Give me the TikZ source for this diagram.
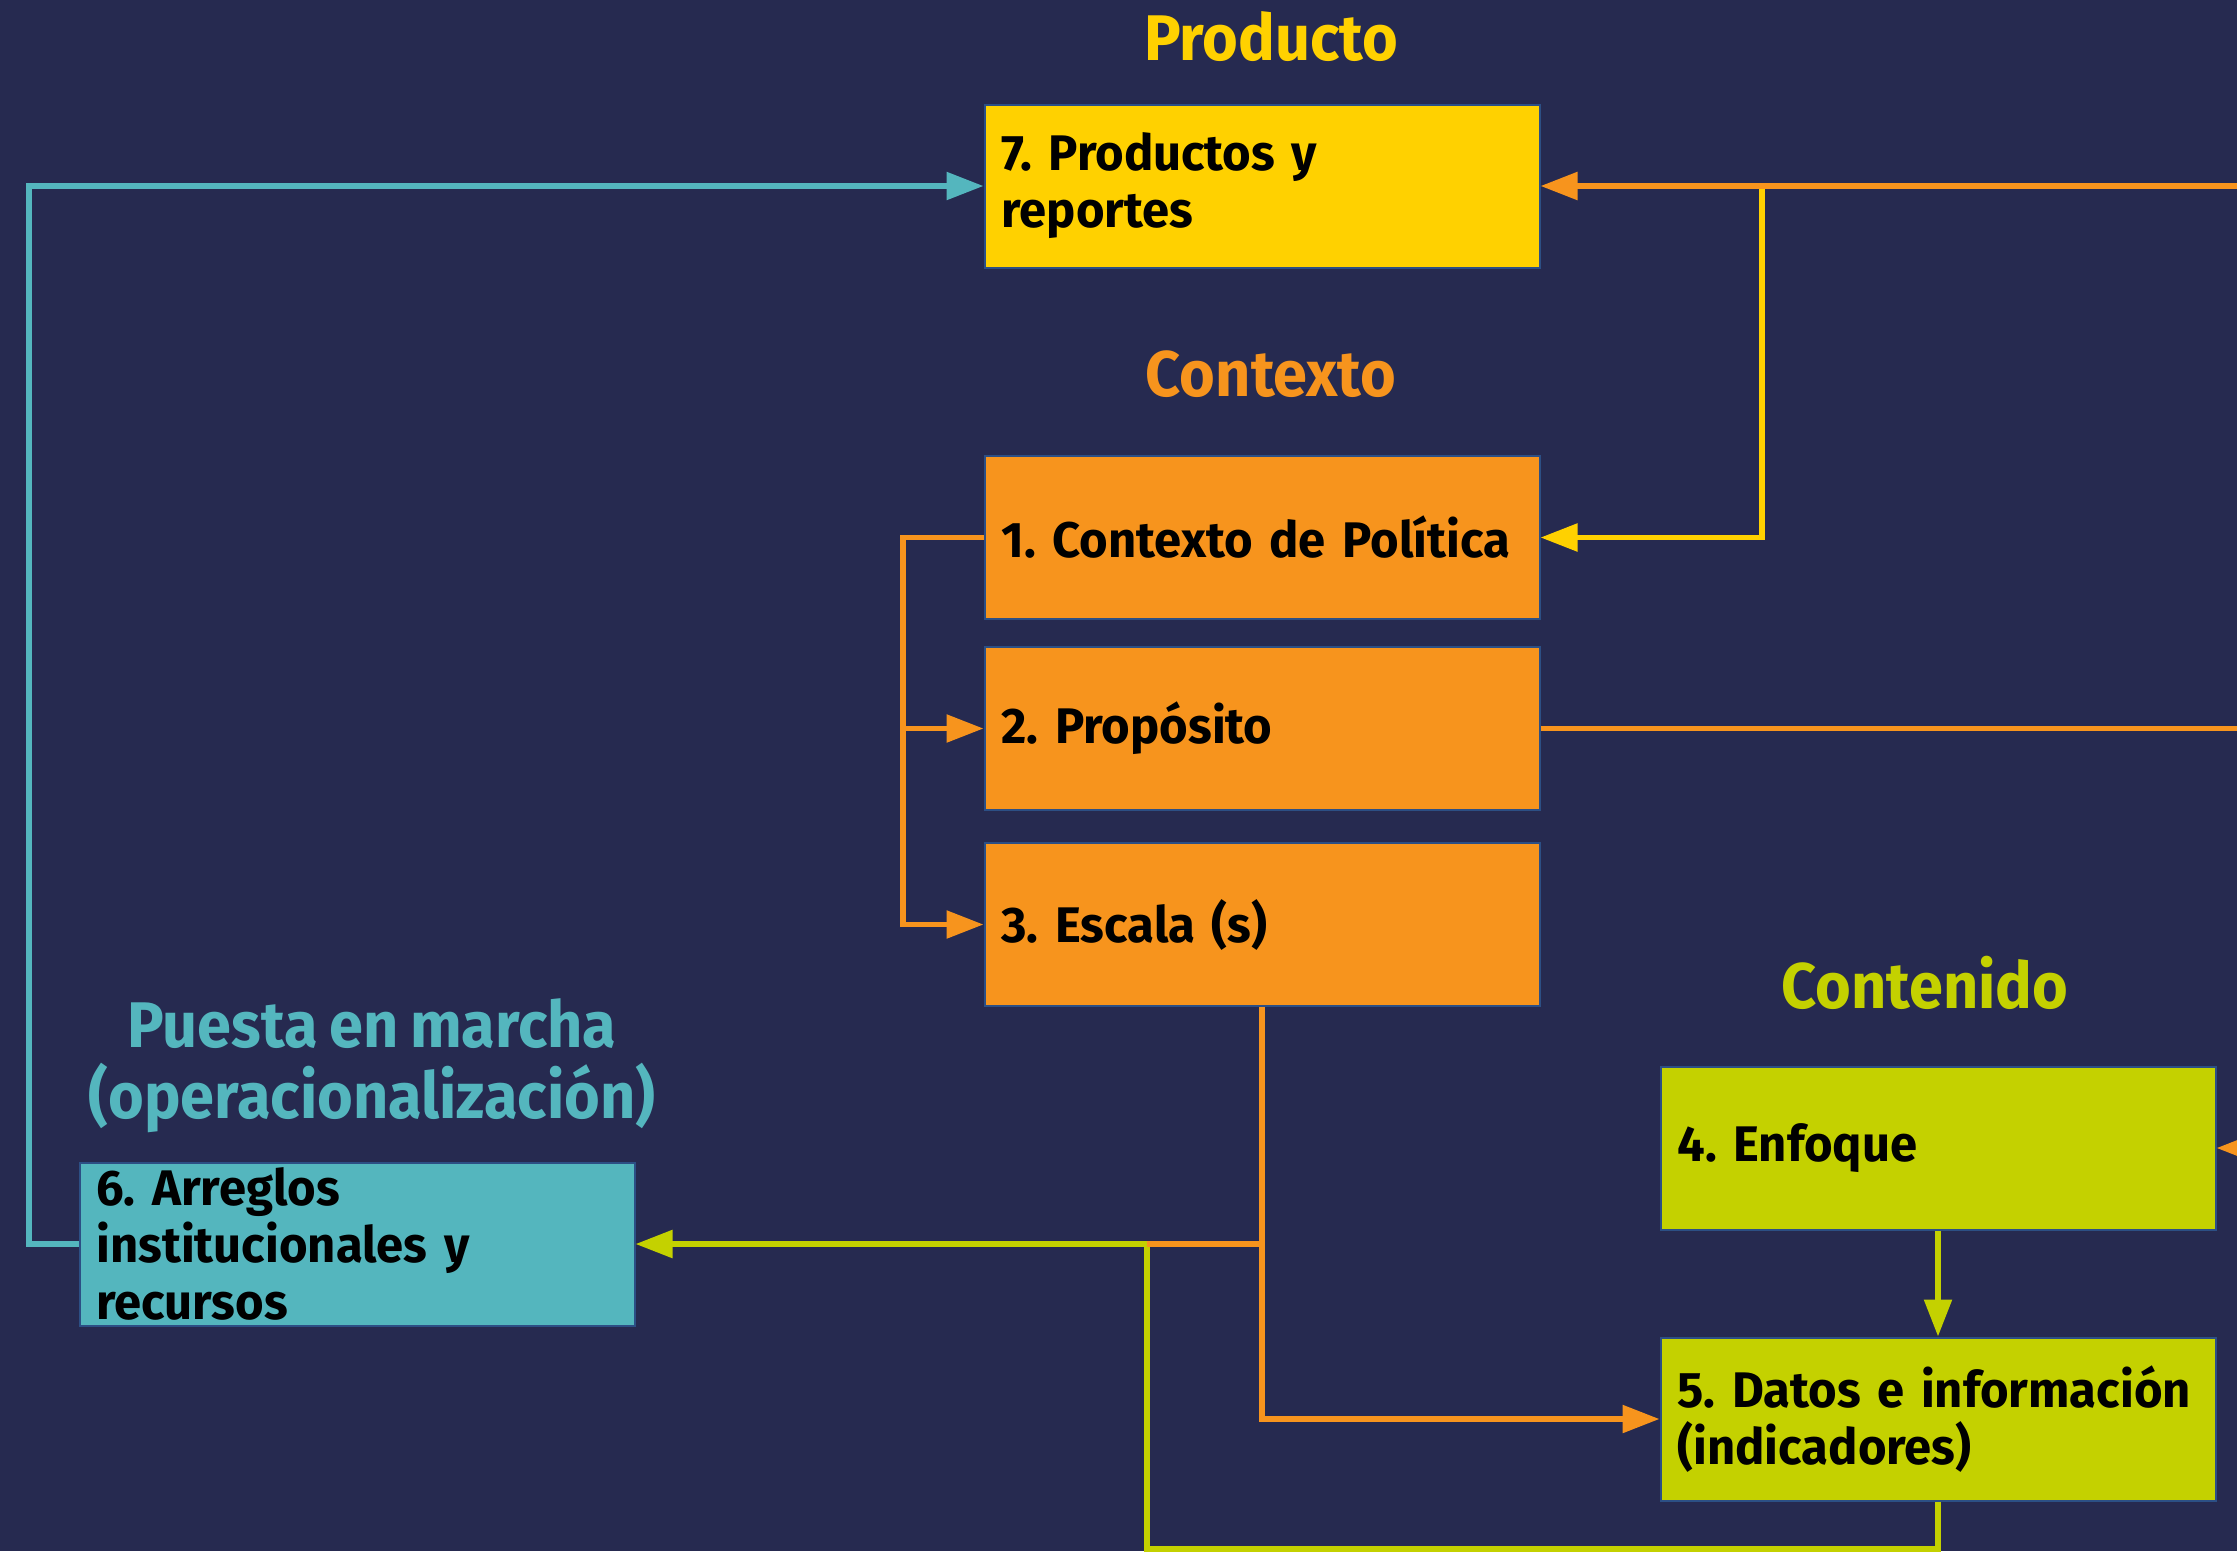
\documentclass[tikz,border=0pt]{standalone}
\usepackage{fontspec}
\setmainfont{Fira Sans}
\newfontfamily\boxfont{Fira Sans}[FakeStretch=0.98]
\newfontfamily\titlefont{Fira Sans}[FakeStretch=0.95,WordSpace=0.8]
\usetikzlibrary{arrows.meta}
\definecolor{bg}{HTML}{262A50}
\definecolor{cyellow}{HTML}{FFD100}
\definecolor{corange}{HTML}{F7941D}
\definecolor{clime}{HTML}{C4D100}
\definecolor{cteal}{HTML}{54B6BE}
\definecolor{cborder}{HTML}{2C4F85}
\tikzset{
  box/.style={draw=cborder, line width=2pt, rectangle, minimum height=163pt,
    text width=521pt, inner xsep=17pt, inner ysep=0pt, text=black,
    execute at begin node={\raggedright\frenchspacing},
    font={\boxfont\bfseries\fontsize{50}{57}\selectfont}},
  ttl/.style={align=center, font=\titlefont\bfseries\fontsize{64.5}{71}\selectfont, inner sep=0pt},
  conn/.style={line width=5.5pt},
  tip/.style={-{Triangle[length=37pt,width=27pt]}},
}
\begin{document}
\begin{tikzpicture}[x=1pt,y=-1pt]
\fill[bg] (0,0) rectangle (2237,1551);
\useasboundingbox (0,0) rectangle (2237,1551);
\clip (0,0) rectangle (2237,1551);

% titles
\node[ttl, text=cyellow] (tprod) at (1271,37) {Producto};
\node[ttl, text=corange] (tctx) at (1271,374) {Contexto};
\node[ttl, text=clime] (tcont) at (1925,983) {Contenido};
\node[ttl, text=cteal] (tpue) at (372,1066) {Puesta en marcha\\(operacionalización)};

% boxes
\node[box, fill=cyellow] (b7) at (1262,186) {7. Productos y\\reportes};
\node[box, fill=corange] (b1) at (1262,537.5) {\mbox{1. Contexto de Política}};
\node[box, fill=corange] (b2) at (1262,728.5) {2. Propósito};
\node[box, fill=corange] (b3) at (1262,924.5) {3. Escala (s)};
\node[box, fill=clime] (b4) at (1938,1148) {4. Enfoque};
\node[box, fill=clime] (b5) at (1938,1419) {\mbox{5. Datos e información}\\(indicadores)};
\node[box, fill=cteal] (b6) at (357,1244) {6. Arreglos\\\mbox{institucionales y}\\recursos};

% coordinates
\coordinate (tl) at (29,186);
\coordinate (r7) at (2240,186);
\coordinate (yj) at (1762,186);
\coordinate (ob) at (903,537.5);
\coordinate (r2) at (2240,728.5);
\coordinate (r4) at (2262,1148);
\coordinate (oj) at (1262,1244);
\coordinate (lj) at (1147,1244);
\coordinate (lc) at (1147,1549);

% connectors
\draw[conn, cteal, tip] (b6.west) -| (tl) -- (b7.west);
\draw[conn, cyellow, tip] (yj) |- (b1.east);
\draw[conn, corange, tip] (r7) -- (b7.east);
\draw[conn, corange, tip] (b1.west) -- (ob) |- (b3.west);
\draw[conn, corange, tip] (ob) |- (b2.west);
\draw[conn, corange] (b2.east) -- (r2);
\draw[conn, corange, tip] (r4) -- (b4.east);
\draw[conn, clime, tip] (b4.south) -- (b5.north);
\draw[conn, clime, tip] (b5.south) |- (lc) |- (b6.east);
\draw[conn, corange, tip] (b3.south) |- (b5.west);
\draw[conn, corange] (oj) -- (lj);
\end{tikzpicture}
\end{document}
